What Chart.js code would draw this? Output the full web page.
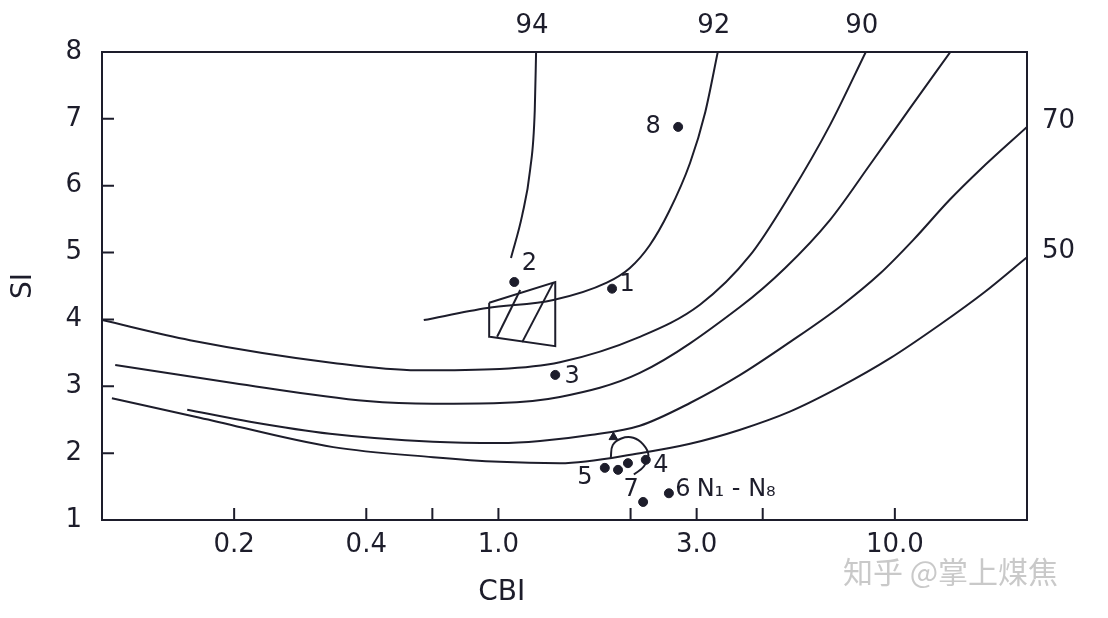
<!DOCTYPE html>
<html>
<head>
<meta charset="utf-8">
<script src="https://cdn.jsdelivr.net/npm/chart.js@4/dist/chart.umd.min.js"></script>
<style>
  body { margin: 0; background: #fff; }
  #wrap { width: 1108px; height: 618px; }
</style>
</head>
<body>
<div id="wrap"><canvas id="siChart"></canvas></div>
<script>
'use strict';

// x axis is a stretched CBI scale: positions 0..14, labelled at a few of them
var xTickValues = [2, 4, 5, 6, 8, 9, 10, 12];
var xTickLabels = ['0.2', '0.4', '', '1.0', '', '3.0', '', '10.0'];
var yTickValues = [1, 2, 3, 4, 5, 6, 7, 8];

// iso-lines, [x, SI], each ending where its name is written
var curve94 = [[6.19, 4.92], [6.36, 5.56], [6.48, 6.24], [6.55, 7.13], [6.57, 8]];
var curve92 = [[4.87, 3.99], [5.83, 4.17], [6.83, 4.29], [7.64, 4.55], [7.99, 4.77], [8.29, 5.11],
               [8.58, 5.61], [8.90, 6.34], [9.13, 7.10], [9.32, 8]];
var curve90 = [[0, 3.99], [1.33, 3.69], [3.50, 3.35], [4.77, 3.24], [6.02, 3.26], [6.93, 3.36],
               [8.14, 3.74], [9.05, 4.22], [9.81, 4.96], [10.41, 5.86], [11.02, 6.91], [11.56, 8]];
var curve80 = [[0.20, 3.32], [1.98, 3.05], [4.01, 2.78], [5.01, 2.74], [6.02, 2.75], [6.93, 2.84],
               [8.14, 3.20], [9.66, 4.19], [10.34, 4.77], [11.02, 5.49], [11.62, 6.31], [12.23, 7.16], [12.84, 8]];
var curve70 = [[1.29, 2.65], [2.24, 2.47], [3.45, 2.29], [5.01, 2.17], [6.02, 2.15], [6.63, 2.18],
               [7.39, 2.27], [8.14, 2.41], [8.90, 2.75], [9.66, 3.17], [10.41, 3.66], [11.17, 4.19],
               [11.78, 4.69], [12.28, 5.19], [12.83, 5.79], [13.29, 6.24], [14, 6.88]];
var curve50 = [[0.15, 2.82], [1.48, 2.53], [3.50, 2.09], [5.01, 1.94], [6.02, 1.87], [6.93, 1.85],
               [8.14, 2.00], [8.90, 2.14], [9.66, 2.35], [10.41, 2.62], [11.17, 2.99], [11.93, 3.42],
               [12.68, 3.92], [13.36, 4.41], [14, 4.93]];
var curveNames = ['94', '92', '90', '', '70', '50'];

// hatched field and the loop around samples 4-7
var boxOutline = [[5.86, 4.25], [6.86, 4.56], [6.86, 3.60], [5.87, 3.74], [5.86, 4.25]];
var hatch1 = [[5.98, 3.74], [6.33, 4.44]];
var hatch2 = [[6.36, 3.66], [6.83, 4.55]];
var loopLine = [[7.70, 1.93], [7.73, 2.12], [7.86, 2.22], [8.04, 2.23], [8.19, 2.13],
                [8.27, 1.97], [8.20, 1.80], [8.05, 1.68]];
var arrowTip = [[7.74, 2.24]];

// samples
var sampleX = [7.72, 6.24, 6.86, 8.23, 7.61, 8.58, 8.19, 8.72, 7.81, 7.96];
var sampleY = [4.46, 4.56, 3.17, 1.90, 1.78, 1.40, 1.27, 6.88, 1.75, 1.85];
var sampleNames = ['1', '2', '3', '4', '5', '6', '7', '8', '', ''];
var nameOffsets = [[15, -4], [15, -18], [17, 2], [15, 6], [-20, 10], [14, -3], [-12, -12], [-25, 0], [0, 0], [0, 0]];

var ink = '#1d1d2b';
var fontName = '"DejaVu Sans", sans-serif';

function toPts(arr) {
    return arr.map(function (p) { return { x: p[0], y: p[1] }; });
}

function lineSet(arr, mode, tension) {
    return {
        data: toPts(arr),
        showLine: true,
        borderColor: ink,
        borderWidth: 2,
        pointRadius: 0,
        cubicInterpolationMode: mode,
        tension: tension,
        fill: false
    };
}

var curves = [curve94, curve92, curve90, curve80, curve70, curve50];
var datasets = curves.map(function (c) { return lineSet(c, 'monotone', 0); });
datasets.push(lineSet(boxOutline, 'default', 0));
datasets.push(lineSet(hatch1, 'default', 0));
datasets.push(lineSet(hatch2, 'default', 0));
datasets.push(lineSet(loopLine, 'default', 0.4));
datasets.push({
    data: toPts(arrowTip),
    pointStyle: 'triangle',
    pointRadius: 5,
    backgroundColor: ink,
    borderColor: ink
});
datasets.push({
    data: sampleX.map(function (x, i) { return { x: x, y: sampleY[i] }; }),
    pointRadius: 4.5,
    backgroundColor: ink,
    borderColor: ink
});

var decor = {
    id: 'decor',
    afterDraw: function (chart) {
        var ctx = chart.ctx;
        var a = chart.chartArea;
        var xs = chart.scales.x;
        var ys = chart.scales.y;
        ctx.save();
        ctx.strokeStyle = ink;
        ctx.lineWidth = 2;
        ctx.strokeRect(a.left, a.top, a.right - a.left, a.bottom - a.top);

        // inward tick marks
        ctx.beginPath();
        xTickValues.forEach(function (v) {
            var px = xs.getPixelForValue(v);
            ctx.moveTo(px, a.bottom);
            ctx.lineTo(px, a.bottom - 12);
        });
        yTickValues.forEach(function (v) {
            if (v === ys.min || v === ys.max) return;
            var py = ys.getPixelForValue(v);
            ctx.moveTo(a.left, py);
            ctx.lineTo(a.left + 12, py);
        });
        ctx.stroke();

        ctx.fillStyle = ink;
        ctx.font = '26px ' + fontName;
        ctx.textBaseline = 'middle';

        // curve names at the end of each line
        curves.forEach(function (c, i) {
            if (!curveNames[i]) return;
            var end = c[c.length - 1];
            var px = xs.getPixelForValue(end[0]);
            var py = ys.getPixelForValue(end[1]);
            if (end[1] >= ys.max) {
                ctx.textAlign = 'center';
                ctx.fillText(curveNames[i], px - 4, a.top - 26);
            } else {
                ctx.textAlign = 'left';
                ctx.fillText(curveNames[i], px + 15, py - 6);
            }
        });

        // sample numbers
        ctx.font = '24px ' + fontName;
        ctx.textAlign = 'center';
        sampleX.forEach(function (x, i) {
            if (!sampleNames[i]) return;
            var px = xs.getPixelForValue(x) + nameOffsets[i][0];
            var py = ys.getPixelForValue(sampleY[i]) + nameOffsets[i][1];
            ctx.fillText(sampleNames[i], px, py);
        });
        ctx.textAlign = 'left';
        ctx.fillText('N\u2081 - N\u2088', xs.getPixelForValue(9.0), ys.getPixelForValue(1.45));

        // axis titles
        ctx.font = '28px ' + fontName;
        ctx.textAlign = 'center';
        ctx.fillText('CBI', xs.getPixelForValue(6.05), 593);
        ctx.save();
        ctx.translate(24, (a.top + a.bottom) / 2);
        ctx.rotate(-Math.PI / 2);
        ctx.fillText('SI', 0, 0);
        ctx.restore();

        // watermark
        ctx.fillStyle = '#c9c9c9';
        ctx.font = '30px "Noto Sans CJK SC", sans-serif';
        ctx.textAlign = 'left';
        ctx.fillText('知乎 @掌上煤焦', 843, 572);
        ctx.restore();
    }
};

new Chart(document.getElementById('siChart').getContext('2d'), {
    type: 'scatter',
    data: { datasets: datasets },
    options: {
        responsive: true,
        maintainAspectRatio: false,
        animation: false,
        layout: { padding: { top: 52, right: 81, left: 0, bottom: 0 } },
        plugins: { legend: { display: false }, tooltip: { enabled: false } },
        scales: {
            x: {
                type: 'linear',
                min: 0,
                max: 14,
                grid: { display: false, drawTicks: false },
                border: { display: false },
                afterBuildTicks: function (s) {
                    s.ticks = xTickValues.map(function (v) { return { value: v }; });
                },
                afterFit: function (s) { s.height = 98; },
                ticks: {
                    autoSkip: false,
                    maxRotation: 0,
                    padding: 10,
                    color: ink,
                    font: { family: fontName, size: 26 },
                    callback: function (v, i) { return xTickLabels[i]; }
                }
            },
            y: {
                type: 'linear',
                min: 1,
                max: 8,
                grid: { display: false, drawTicks: false },
                border: { display: false },
                afterBuildTicks: function (s) {
                    s.ticks = yTickValues.map(function (v) { return { value: v }; });
                },
                afterFit: function (s) { s.width = 102; },
                ticks: {
                    padding: 20,
                    color: ink,
                    font: { family: fontName, size: 26 }
                }
            }
        }
    },
    plugins: [decor]
});
</script>
</body>
</html>
